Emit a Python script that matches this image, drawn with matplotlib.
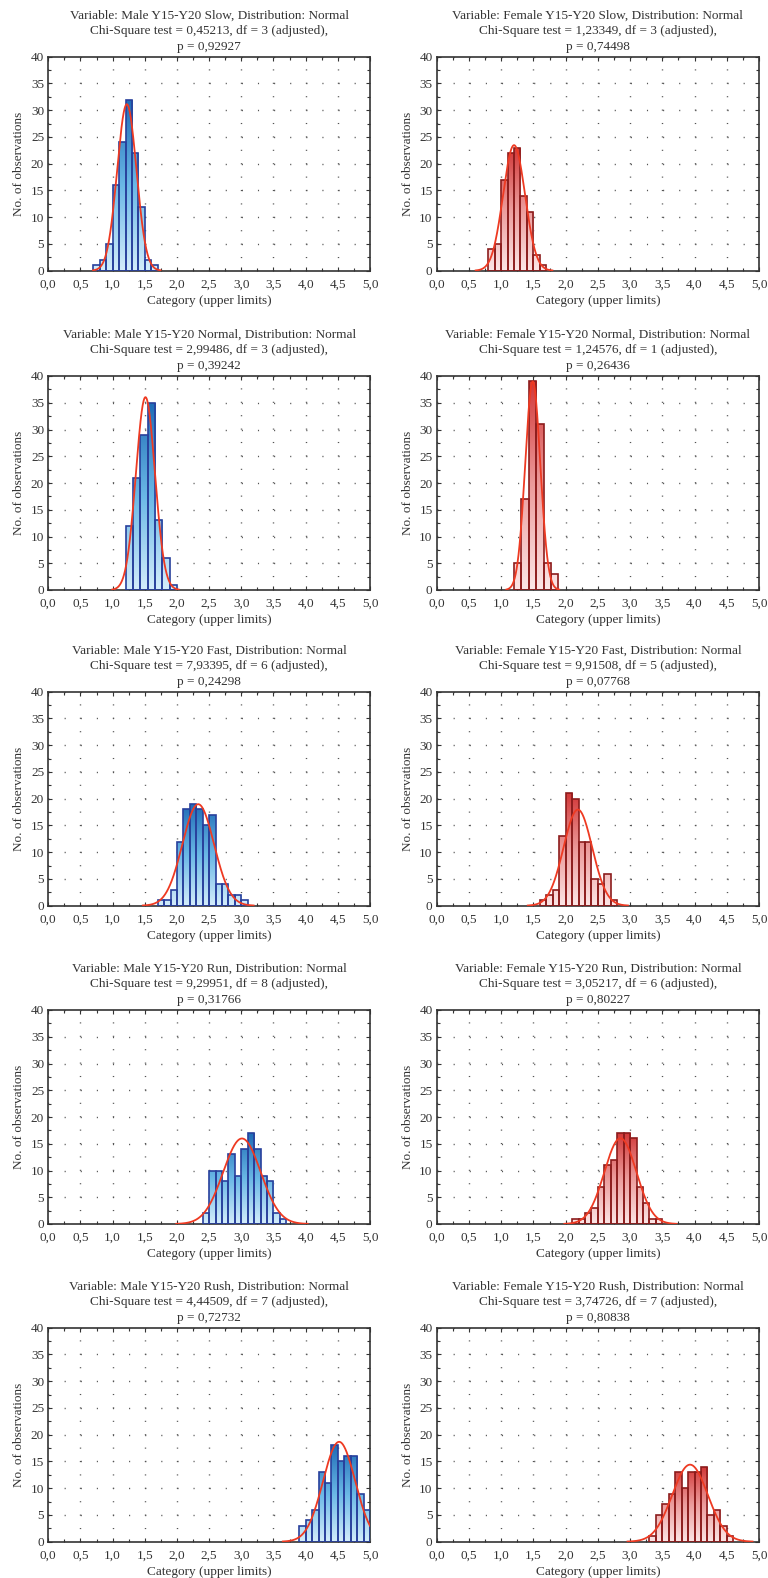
import numpy as np
import matplotlib
matplotlib.use("Agg")
import matplotlib.pyplot as plt
from matplotlib.colors import LinearSegmentedColormap
from matplotlib.ticker import MultipleLocator, FuncFormatter

plt.rcParams["font.family"] = ["Liberation Serif", "DejaVu Serif"]
plt.rcParams["lines.scale_dashes"] = False
plt.rcParams["text.color"] = "#333333"
plt.rcParams["axes.labelcolor"] = "#333333"
plt.rcParams["xtick.color"] = "#333333"
plt.rcParams["ytick.color"] = "#333333"

# rows: speed, columns: male / female
groups = ["Male", "Female"]
speeds = ["Slow", "Normal", "Fast", "Run", "Rush"]

chi_square = [[0.45213, 1.23349],
              [2.99486, 1.24576],
              [7.93395, 9.91508],
              [9.29951, 3.05217],
              [4.44509, 3.74726]]
dof = [[3, 3], [3, 1], [6, 5], [8, 6], [7, 7]]
p_values = [[0.92927, 0.74498],
            [0.39242, 0.26436],
            [0.24298, 0.07768],
            [0.31766, 0.80227],
            [0.72732, 0.80838]]

# histogram bins (first lower limit, bin width) and counts
bin_start = [[0.7, 0.8], [1.2, 1.2], [1.7, 1.6], [2.4, 2.1], [3.9, 3.3]]
bin_width = [[0.1, 0.1], [0.8 / 7, 0.8 / 7], [0.1, 0.1], [0.1, 0.1], [0.1, 0.1]]
counts = [
    [[1, 2, 5, 16, 24, 32, 22, 12, 2, 1],
     [4, 5, 17, 22, 23, 14, 11, 3, 1]],
    [[12, 21, 29, 35, 13, 6, 1],
     [5, 17, 39, 31, 5, 3]],
    [[1, 1, 3, 12, 18, 19, 18, 15, 17, 4, 4, 2, 2, 1],
     [1, 2, 3, 13, 21, 20, 12, 12, 5, 4, 6, 1]],
    [[2, 10, 10, 8, 13, 9, 14, 17, 14, 9, 8, 2, 1],
     [1, 1, 2, 3, 7, 11, 12, 17, 17, 16, 7, 4, 1, 1]],
    [[3, 4, 6, 13, 11, 18, 15, 16, 16, 9, 6],
     [1, 5, 7, 9, 13, 10, 13, 13, 14, 5, 6, 3, 1]],
]

# fitted normal distribution (mean, sd)
fit_mean = [[1.22, 1.20], [1.51, 1.49], [2.33, 2.19], [3.01, 2.85], [4.52, 3.93]]
fit_sd = [[0.150, 0.170], [0.148, 0.117], [0.246, 0.222], [0.292, 0.249], [0.250, 0.277]]

cmaps = [LinearSegmentedColormap.from_list("blue", ["#d4edfb", "#6ab8e6", "#1f6cb6"]),
         LinearSegmentedColormap.from_list("red", ["#fce6e6", "#ec9c9c", "#d23838"])]
edge_colors = ["#28409c", "#8c1c1c"]
curve_color = "#ee3a22"

fig = plt.figure(figsize=(7.68, 15.78), dpi=100)
W, H = 768.0, 1578.0
col_left = [48.3, 436.7]
col_width = [321.7, 322.3]
row_top = [56.7, 376.0, 691.7, 1010.0, 1327.7]
ax_h = 214.0

comma = FuncFormatter(lambda v, pos: f"{v:.1f}".replace(".", ","))
grad = np.linspace(0, 1, 256).reshape(-1, 1)

for r in range(5):
    for c in range(2):
        ax = fig.add_axes([col_left[c] / W, 1 - (row_top[r] + ax_h) / H,
                           col_width[c] / W, ax_h / H])
        cnt = np.array(counts[r][c])
        w = bin_width[r][c]
        edges = bin_start[r][c] + w * np.arange(len(cnt) + 1)
        bars = ax.bar(edges[:-1], cnt, width=w, align="edge", facecolor="none",
                      edgecolor=edge_colors[c], linewidth=1.2, zorder=3)
        top = cnt.max()
        for rect in bars:
            x0 = rect.get_x()
            im = ax.imshow(grad, cmap=cmaps[c], origin="lower", aspect="auto",
                           extent=(x0, x0 + w, 0, top), vmin=0, vmax=1, zorder=2)
            im.set_clip_path(rect)

        m, s = fit_mean[r][c], fit_sd[r][c]
        xs = np.linspace(max(0, m - 3.5 * s), min(5, m + 3.5 * s), 400)
        ys = cnt.sum() * w * np.exp(-0.5 * ((xs - m) / s) ** 2) / (s * np.sqrt(2 * np.pi))
        ax.plot(xs, ys, color=curve_color, lw=1.3, zorder=4)

        ax.set_xlim(0, 5)
        ax.set_ylim(0, 40)
        ax.xaxis.set_major_locator(MultipleLocator(0.5))
        ax.xaxis.set_minor_locator(MultipleLocator(0.25))
        ax.yaxis.set_major_locator(MultipleLocator(5))
        ax.yaxis.set_minor_locator(MultipleLocator(2.5))
        ax.xaxis.set_major_formatter(comma)
        ax.tick_params(which="both", direction="in", top=True, right=True,
                       labelsize=9.5, width=0.8)
        ax.tick_params(which="major", length=3)
        ax.tick_params(which="minor", length=2)
        ax.tick_params(axis="x", pad=5.5)
        ax.tick_params(axis="y", pad=3)

        ax.xaxis.grid(True, linestyle=(0, (0.8, 8.85)), lw=1.0, color="#555555")
        ax.yaxis.grid(True, linestyle=(0, (0.8, 10.8)), lw=1.0, color="#555555")
        ax.set_axisbelow(True)
        for sp in ax.spines.values():
            sp.set_color("#333333")
            sp.set_linewidth(1.2)

        title = (f"Variable: {groups[c]} Y15-Y20 {speeds[r]}, Distribution: Normal\n"
                 f"Chi-Square test = {chi_square[r][c]:.5f}".replace(".", ",")
                 + f", df = {dof[r][c]} (adjusted),\n"
                 + f"p = {p_values[r][c]:.5f}".replace(".", ","))
        ax.set_title(title, fontsize=9.5, pad=5, linespacing=1.4)
        ax.set_xlabel("Category (upper limits)", fontsize=9.5, labelpad=3)
        ax.set_ylabel("No. of observations", fontsize=9.5, labelpad=4)

fig.savefig("out.png", dpi=100)
